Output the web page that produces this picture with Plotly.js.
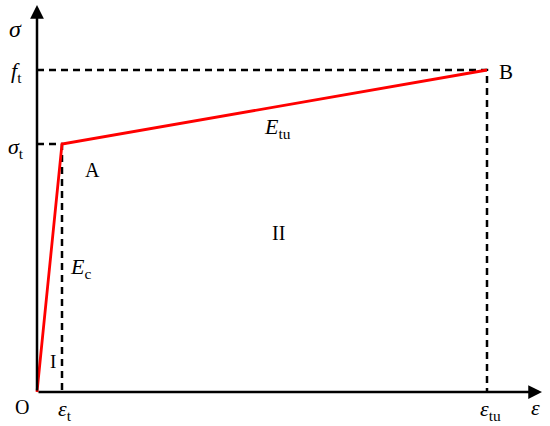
<!DOCTYPE html>
<html>
<head>
<meta charset="utf-8">
<script src="https://cdn.plot.ly/plotly-3.0.1.min.js"></script>
<style>
  body { margin: 0; background: #fff; }
  #chart { width: 550px; height: 426px; }
</style>
</head>
<body>
<div id="chart"></div>
<script>
// bilinear tension law: O -> A -> B
const strainPts = [0, 25, 450];     // 0, eps_t, eps_tu
const stressPts = [0, 248, 322];    // 0, sigma_t, f_t
const pointNames = ["O", "A", "B"];

const serif = "'Liberation Serif', 'Times New Roman', serif";

let stressLine = {
  x: strainPts,
  y: stressPts,
  mode: "lines",
  type: "scatter",
  line: { color: "#ff0000", width: 2.8 },
  hoverinfo: "skip"
};

// dashed guides from the points A and B to the axes
function guides(i) {
  return {
    x: [0, strainPts[i], strainPts[i]],
    y: [stressPts[i], stressPts[i], 0],
    mode: "lines",
    type: "scatter",
    line: { color: "black", width: 2.5, dash: "7px,5px" },
    hoverinfo: "skip"
  };
}

function label(x, y, text, size) {
  return {
    x: x, y: y, xref: "x", yref: "y",
    text: text, showarrow: false,
    font: { family: serif, size: size || 18, color: "black" }
  };
}

function arrowAxis(x, y) {
  return {
    x: x, y: y, ax: 0, ay: 0,
    xref: "x", yref: "y", axref: "x", ayref: "y",
    text: "", showarrow: true,
    arrowhead: 2, arrowsize: 1.1, arrowwidth: 2.5, arrowcolor: "black",
    standoff: 0, startstandoff: 0
  };
}

let layout = {
  width: 550,
  height: 426,
  margin: { l: 0, r: 0, t: 0, b: 0 },
  paper_bgcolor: "white",
  plot_bgcolor: "white",
  showlegend: false,
  font: { family: serif },
  xaxis: { range: [-37, 513], visible: false, fixedrange: true },
  yaxis: { range: [-34, 392], visible: false, fixedrange: true },
  annotations: [
    arrowAxis(505, 0),
    arrowAxis(0, 387),
    label(-22, 363, "<i>σ</i>", 24),
    label(-21, 320, "<i>f</i><sub>t</sub>", 22),
    label(-21, 244, "<i>σ</i><sub>t</sub>", 22),
    label(-15, -15, pointNames[0], 20),
    label(28, -18, "<i>ε</i><sub>t</sub>", 22),
    label(453, -18, "<i>ε</i><sub>tu</sub>", 22),
    label(498, -15, "<i>ε</i>", 22),
    label(55, 222, pointNames[1], 20),
    label(469, 320, pointNames[2], 21),
    label(240, 264, "<i>E</i><sub>tu</sub>", 22),
    label(241, 159, "II", 20),
    label(43, 124, "<i>E</i><sub>c</sub>", 22),
    label(16, 31, "I", 19)
  ]
};

Plotly.newPlot("chart", [guides(1), guides(2), stressLine], layout, { staticPlot: true });
</script>
</body>
</html>
